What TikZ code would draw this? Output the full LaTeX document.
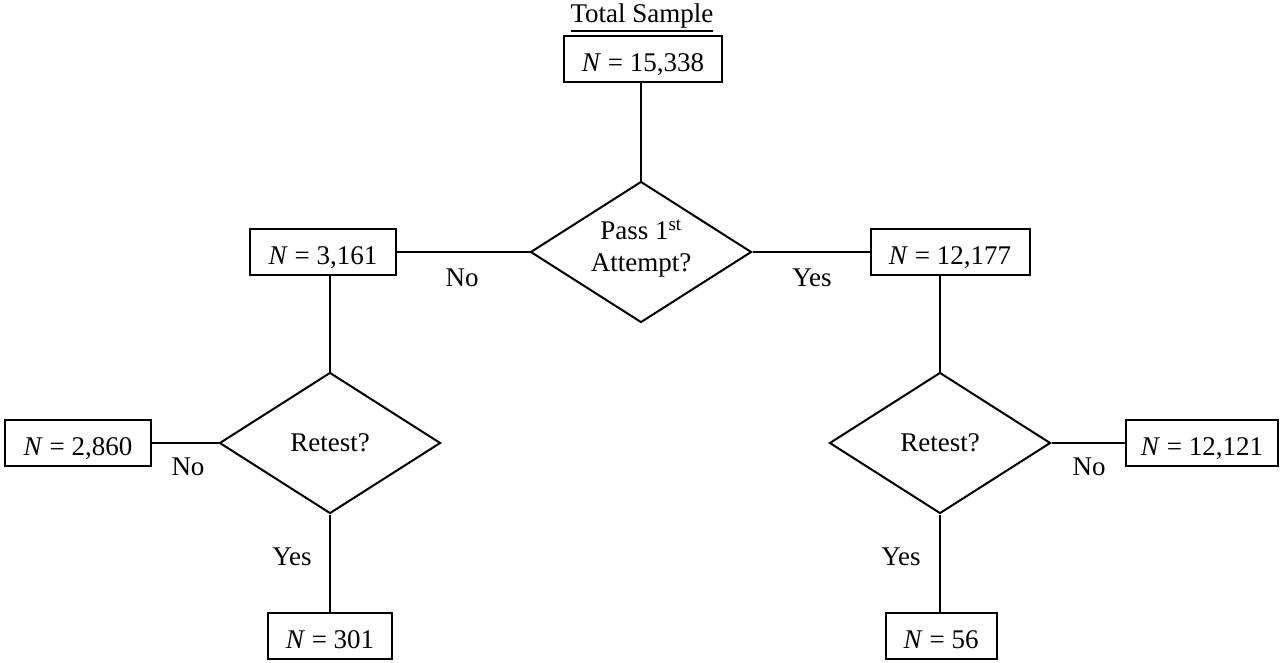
\documentclass[tikz,border=0pt]{standalone}
\usepackage{fontspec}
\setmainfont{Liberation Serif}
\usetikzlibrary{shapes.geometric}
\newcommand{\thickul}[1]{\vtop{\hbox{#1}\kern1.5pt\hrule height 1.6pt}}
\begin{document}
\begin{tikzpicture}[x=1pt,y=-1pt,
  box/.style={draw, line width=2pt, inner sep=0pt, minimum height=46pt, text height=26pt, text depth=2pt, font=\fontsize{27}{32}\selectfont},
  dec/.style={draw, diamond, line width=2pt, inner sep=0pt, aspect=1.56, minimum width=221pt, minimum height=141pt, align=center, font=\fontsize{27}{32}\selectfont},
  lbl/.style={inner sep=0pt, font=\fontsize{27}{32}\selectfont},
  conn/.style={line width=2pt}]
\useasboundingbox (0,0) rectangle (1282,662);
% title
\node[lbl] (title) at (642,18) {\thickul{Total Sample}};
% boxes
\node[box, minimum width=158pt] (b0) at (643,59) {\textit{N} = 15,338};
\node[box, minimum width=146pt] (b1) at (323,252) {\textit{N} = 3,161};
\node[box, minimum width=159pt] (b2) at (950,252) {\textit{N} = 12,177};
\node[box, minimum width=146pt] (b3) at (78,443) {\textit{N} = 2,860};
\node[box, minimum width=152pt] (b4) at (1202,443) {\textit{N} = 12,121};
\node[box, minimum width=124pt] (b5) at (330,636) {\textit{N} = 301};
\node[box, minimum width=111pt] (b6) at (941,636) {\textit{N} = 56};
% decisions
\node[dec] (d1) at (641,252) {Pass 1\textsuperscript{st}\\Attempt?\\[-19pt]};
\node[dec] (d2) at (330,443) {Retest?};
\node[dec] (d3) at (940,443) {Retest?};
% connectors
\draw[conn] (d1.north) -- (d1.north |- b0.south);
\draw[conn] (b1.east) -- (d1.west);
\draw[conn] (d1.east) -- (b2.west);
\draw[conn] (d2.north) -- (d2.north |- b1.south);
\draw[conn] (d3.north) -- (d3.north |- b2.south);
\draw[conn] (b3.east) -- (d2.west);
\draw[conn] (d3.east) -- (b4.west);
\draw[conn] (d2.south) -- (d2.south |- b5.north);
\draw[conn] (d3.south) -- (d3.south |- b6.north);
% labels
\node[lbl] (no1) at (462,278) {No};
\node[lbl] (yes1) at (812,278) {Yes};
\node[lbl] (no2) at (188,467) {No};
\node[lbl] (no3) at (1089,467) {No};
\node[lbl] (yes2) at (292,557) {Yes};
\node[lbl] (yes3) at (901,557) {Yes};
\end{tikzpicture}
\end{document}
